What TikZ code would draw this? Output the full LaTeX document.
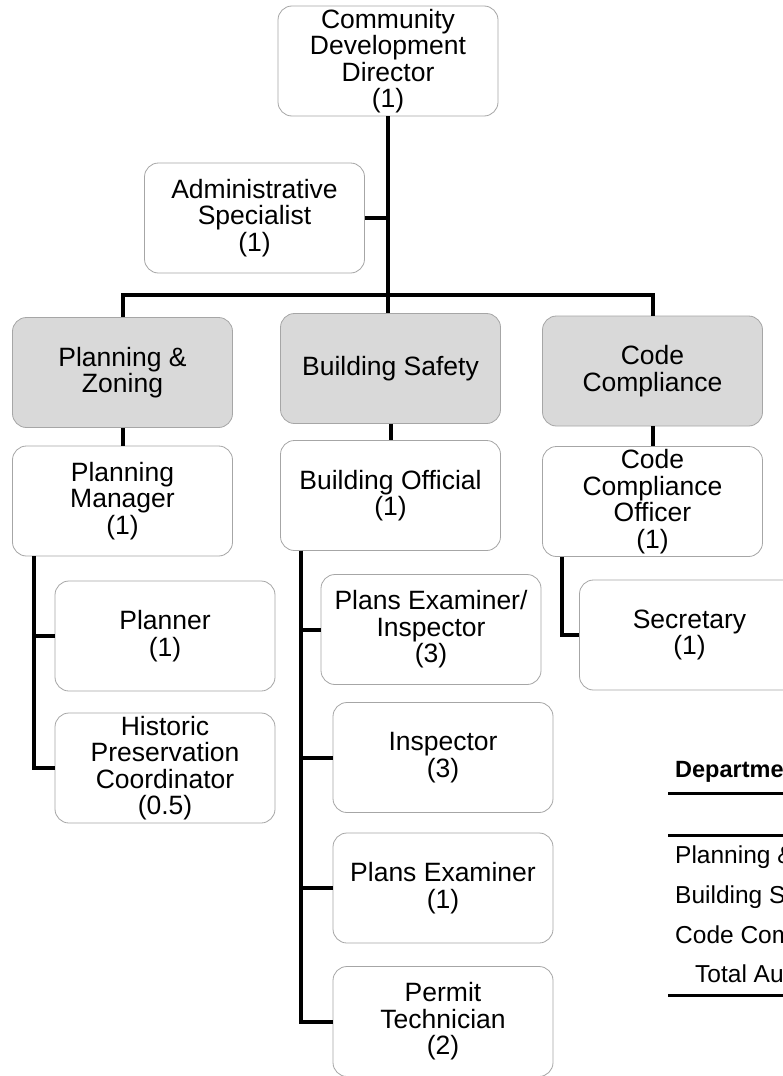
\documentclass[tikz,border=0pt]{standalone}
\usepackage{fontspec}
\setmainfont{Liberation Sans}
\usetikzlibrary{positioning}
\definecolor{unitgray}{HTML}{D9D9D9}
\definecolor{edgegray}{HTML}{A6A6A6}

\begin{document}
\begin{tikzpicture}[x=1pt, y=-1pt, on grid,
    box/.style={draw=edgegray, line width=0.8pt, rounded corners=14pt, fill=white,
        align=center, minimum width=220pt, minimum height=110pt, inner sep=2pt,
        font=\fontsize{26.5}{26.5}\selectfont},
    unit/.style={box, fill=unitgray},
    link/.style={line width=4pt},
    rule/.style={line width=3pt},
    tabtext/.style={anchor=base west, inner sep=0pt, font=\fontsize{24.5}{26}\selectfont}]
    \useasboundingbox (0,0) rectangle (783,1076);
    \fill[white] (0,0) rectangle (783,1076);
    \clip (0,0) rectangle (783,1076);

    \node[box] (dir) at (388,61) {Community\\Development\\Director\\(1)};
    \node[box] (admin) at (254.5,218) {Administrative\\Specialist\\(1)};

    \node[unit] (pz) at (122.5,372.5) {Planning \&\\Zoning};
    \node[unit] (bs) at (390.5,368.5) {Building Safety};
    \node[unit] (cc) at (652.5,371) {Code\\Compliance};

    \node[box] (pm) [below=128.5pt of pz] {Planning\\Manager\\(1)};
    \node[box] (bo) [below=127pt of bs] {Building Official\\(1)};
    \node[box] (cco) [below=130.5pt of cc] {Code\\Compliance\\Officer\\(1)};

    \node[box] (planner) at (165,636) {Planner\\(1)};
    \node[box] (hist) [below=132pt of planner] {Historic\\Preservation\\Coordinator\\(0.5)};

    \node[box] (pei) at (431,629.5) {Plans Examiner/\\Inspector\\(3)};
    \node[box] (insp) at (443,757.5) {Inspector\\(3)};
    \node[box] (pexam) [below=130.5pt of insp] {Plans Examiner\\(1)};
    \node[box] (permit) [below=133.5pt of pexam] {Permit\\Technician\\(2)};

    \node[box] (sec) at (689.5,635) {Secretary\\(1)};

    % reporting lines
    \coordinate (bus) at (388,295);
    \draw[link] (dir.south) -- (dir.south |- bs.north);
    \draw[link] (admin.east) -- (admin.east -| dir.south);
    \draw[link] (pz.north) |- (bus) -| (cc.north);
    \draw[link] (pz.south) -- (pm.north);
    \draw[link] (bs.south) -- (bo.north);
    \draw[link] (cc.south) -- (cco.north);

    \draw[link] ([xshift=22pt]pm.south west) |- (planner.west);
    \draw[link] ([xshift=22pt]pm.south west) |- (hist.west);

    \draw[link] ([xshift=21pt]bo.south west) |- (pei.west);
    \draw[link] ([xshift=21pt]bo.south west) |- (insp.west);
    \draw[link] ([xshift=21pt]bo.south west) |- (pexam.west);
    \draw[link] ([xshift=21pt]bo.south west) |- (permit.west);

    \draw[link] ([xshift=20pt]cco.south west) |- (sec.west);

    % staffing table
    \node[tabtext, font=\bfseries\fontsize{23.5}{26}\selectfont] (thead) at (675,777) {Departme};
    \draw[rule] (668,793) -- (790,793);
    \draw[rule] (668,835) -- (790,835);
    \node[tabtext] (rowpz) at (675,863) {Planning \&};
    \node[tabtext] (rowbs) at (675,903) {Building S};
    \node[tabtext] (rowcc) at (675,943) {Code Com};
    \node[tabtext] (rowtot) at (695,982) {Total Au};
    \draw[rule] (668,995) -- (790,995);
\end{tikzpicture}
\end{document}
